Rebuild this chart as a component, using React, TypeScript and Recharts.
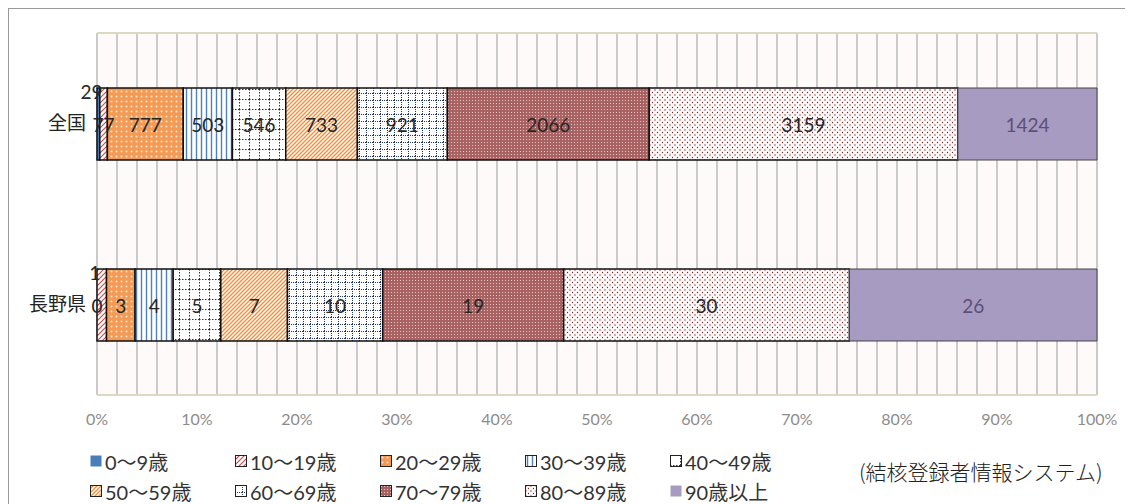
import React from 'react';
import { BarChart, Bar, XAxis, YAxis, CartesianGrid, LabelList } from 'recharts';

// 年齢階級別 結核登録者数
const categories = ['全国', '長野県'];
const ageGroups = ['0〜9歳', '10〜19歳', '20〜29歳', '30〜39歳', '40〜49歳', '50〜59歳', '60〜69歳', '70〜79歳', '80〜89歳', '90歳以上'];
const zenkoku = [29, 77, 777, 503, 546, 733, 921, 2066, 3159, 1424];
const nagano = [0, 1, 3, 4, 5, 7, 10, 19, 30, 26];
const xTicks = [0, 0.1, 0.2, 0.3, 0.4, 0.5, 0.6, 0.7, 0.8, 0.9, 1];
const gridStep = 0.02;
// labels that Excel had dragged above the bar (tiny segments)
const raisedLabels = [
  { cat: '全国', series: 0 },
  { cat: '長野県', series: 1 },
];
const sourceNote = '(結核登録者情報システム)';

const valuesByCat = [zenkoku, nagano];
const chartData = categories.map((name, ci) => {
  const row: Record<string, any> = { name };
  ageGroups.forEach((g, si) => { row['s' + si] = valuesByCat[ci][si]; });
  return row;
});

const gridTicks: number[] = [];
for (let i = 0; i <= Math.round(1 / gridStep); i++) gridTicks.push(i * gridStep);

const NUM_FONT = 'Lato, "Noto Sans CJK JP", sans-serif';
const JP_FONT = '"Noto Sans CJK JP", sans-serif';

const fills = ['url(#p0)', 'url(#p1)', 'url(#p2)', 'url(#p3)', 'url(#p4)', 'url(#p5)', 'url(#p6)', 'url(#p7)', 'url(#p8)', 'url(#p9)'];

const Patterns = () => (
  <svg width={0} height={0} style={{ position: 'absolute' }}>
    <defs>
      <pattern id="p0" width={4} height={4} patternUnits="userSpaceOnUse">
        <rect width={4} height={4} fill="#4a7ebb" />
      </pattern>
      <pattern id="p1" width={5} height={5} patternUnits="userSpaceOnUse">
        <rect width={5} height={5} fill="#fff" />
        <path d="M0,5 L5,0 M-1,1 L1,-1 M4,6 L6,4" stroke="#d04a4a" strokeWidth={1.2} />
      </pattern>
      <pattern id="p2" width={5} height={5} patternUnits="userSpaceOnUse">
        <rect width={5} height={5} fill="#f39a55" />
        <circle cx={2.5} cy={2.5} r={1} fill="#fde6d2" />
      </pattern>
      <pattern id="p3" width={5} height={5} patternUnits="userSpaceOnUse">
        <rect width={5} height={5} fill="#fff" />
        <line x1={2.5} y1={0} x2={2.5} y2={5} stroke="#4f81bd" strokeWidth={1.4} />
      </pattern>
      <pattern id="p4" width={10} height={10} patternUnits="userSpaceOnUse">
        <rect width={10} height={10} fill="#fff" />
        <path d="M0,0.5 H10 M0.5,0 V10" stroke="#333" strokeWidth={1} strokeDasharray="1.5,1.5" />
      </pattern>
      <pattern id="p5" width={4} height={4} patternUnits="userSpaceOnUse">
        <rect width={4} height={4} fill="#fff" />
        <path d="M0,4 L4,0 M-1,1 L1,-1 M3,5 L5,3" stroke="#f58a35" strokeWidth={1.3} />
      </pattern>
      <pattern id="p6" width={7} height={7} patternUnits="userSpaceOnUse">
        <rect width={7} height={7} fill="#fff" />
        <path d="M0,0.5 H7 M0.5,0 V7" stroke="#1f3864" strokeWidth={1} strokeDasharray="1,1" />
      </pattern>
      <pattern id="p7" width={3} height={3} patternUnits="userSpaceOnUse">
        <rect width={3} height={3} fill="#a86262" />
        <rect x={1} y={1} width={1} height={1} fill="#e6c4c4" />
      </pattern>
      <pattern id="p8" width={5} height={5} patternUnits="userSpaceOnUse">
        <rect width={5} height={5} fill="#fffafa" />
        <circle cx={1} cy={1} r={0.65} fill="#7a2222" />
        <circle cx={3.5} cy={3.5} r={0.65} fill="#7a2222" />
      </pattern>
      <pattern id="p9" width={4} height={4} patternUnits="userSpaceOnUse">
        <rect width={4} height={4} fill="#a89bc2" />
      </pattern>
    </defs>
  </svg>
);

const labelText = (x: number, y: number, value: number, s: number, key?: string) => (
  <text key={key} x={x} y={y} textAnchor="middle" dominantBaseline="central"
    fill={s === 9 ? '#5b5075' : '#262626'} fontSize={19} fontFamily={NUM_FONT}>
    {value}
  </text>
);

const makeLabel = (s: number) => (props: any) => {
  const { x, y, width, height, index } = props;
  const cat = categories[index];
  const value = valuesByCat[index][s];
  const raised = raisedLabels.some(r => r.cat === cat && r.series === s);
  const cx = x + width / 2 + (raised ? -7 : 0);
  const cy = raised ? y + 3 : y + height / 2;
  const out = [labelText(cx, cy, value, s, 'own')];
  // a zero segment has no rectangle, so its label is placed at the start of the next one
  if (s > 0 && valuesByCat[index][s - 1] === 0) {
    out.push(labelText(x, y + height / 2, 0, s - 1, 'prev'));
  }
  return <g>{out}</g>;
};

const vGrid = ({ offset }: any) => gridTicks.map(t => offset.left + t * offset.width);

const hFrame = ({ offset }: any) => [offset.top, offset.top + offset.height];

export default function App() {
  return (
    <div style={{ position: 'relative', width: 1130, height: 500, borderLeft: '1px solid #9a9a9a', borderTop: '1px solid #9a9a9a', boxSizing: 'border-box', background: '#fff' }}>
      <Patterns />
      <BarChart width={1124} height={440} data={chartData} layout="vertical" stackOffset="expand"
        margin={{ top: 24, right: 36, bottom: 24, left: 28 }} barSize={72}>
        <CartesianGrid horizontal={false} vertical verticalCoordinatesGenerator={vGrid} stroke="#cacaca" strokeWidth={2} fill="#fffafa" />
        <CartesianGrid vertical={false} horizontal horizontalCoordinatesGenerator={hFrame} stroke="#ddd8c2" strokeWidth={2} />
        <XAxis type="number" domain={[0, 1]} ticks={xTicks} tickFormatter={(v: number) => Math.round(v * 100) + '%'}
          axisLine={false} tickLine={false} tickMargin={13} height={30}
          tick={{ fill: '#8c8c8c', fontSize: 16, fontFamily: NUM_FONT }} />
        <YAxis type="category" dataKey="name" width={60} axisLine={false} tickLine={false} tickMargin={5}
          tick={{ fill: '#222', fontSize: 19, fontFamily: JP_FONT }} />
        {ageGroups.map((g, si) => (
          <Bar key={g} dataKey={'s' + si} name={g} stackId="a" fill={fills[si]}
            stroke={si === 9 ? '#444' : '#111'} strokeWidth={si === 9 ? 1 : 1.5} isAnimationActive={false}>
            <LabelList dataKey={'s' + si} content={makeLabel(si)} />
          </Bar>
        ))}
      </BarChart>
      <div style={{ position: 'absolute', left: 81, top: 437, width: 740, display: 'flex', flexWrap: 'wrap', fontFamily: NUM_FONT, fontSize: 20, color: '#333' }}>
        {ageGroups.map((g, si) => (
          <div key={g} style={{ width: 145, height: 30, display: 'flex', alignItems: 'center' }}>
            <svg width={12} height={12} style={{ marginRight: 3 }}>
              <rect x={0.5} y={0.5} width={11} height={11} fill={fills[si]} stroke={si === 0 || si === 9 ? 'none' : '#222'} strokeWidth={1} />
            </svg>
            <span>{g}</span>
          </div>
        ))}
      </div>
      <div style={{ position: 'absolute', left: 850, top: 447, fontFamily: JP_FONT, fontSize: 21, fontWeight: 300, color: '#222', whiteSpace: 'nowrap' }}>
        {sourceNote}
      </div>
    </div>
  );
}
